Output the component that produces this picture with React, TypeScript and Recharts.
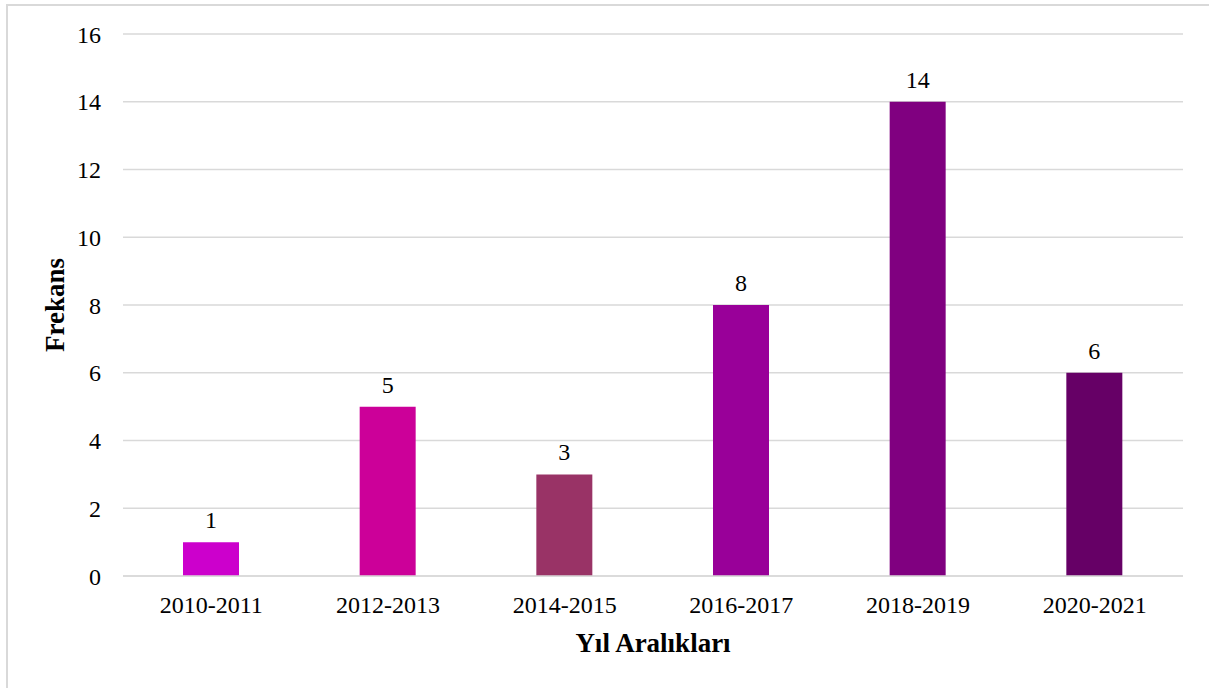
import { BarChart, Bar, XAxis, YAxis, CartesianGrid, Cell, LabelList, Label } from "recharts";

const categories = ["2010-2011", "2012-2013", "2014-2015", "2016-2017", "2018-2019", "2020-2021"];
const frequencies = [1, 5, 3, 8, 14, 6];
const barColors = ["#CC00CC", "#CC0099", "#993366", "#990099", "#800080", "#660066"];
const yTicks = [0, 2, 4, 6, 8, 10, 12, 14, 16];

const data = categories.map((range, i) => ({ range, value: frequencies[i] }));

const FONT = "'Liberation Serif', 'Times New Roman', serif";

export default function App() {
  return (
    <div style={{ position: "fixed", left: 0, top: 0, width: 1209, height: 688, background: "#fff", fontFamily: FONT }}>
      <BarChart
        width={1209}
        height={688}
        data={data}
        margin={{ top: 34, right: 26, left: 63, bottom: 20 }}
      >
        <CartesianGrid vertical={false} stroke="#d9d9d9" strokeWidth={1.5} />
        <XAxis
          dataKey="range"
          height={92}
          axisLine={{ stroke: "#d9d9d9", strokeWidth: 1.5 }}
          tickLine={false}
          tickMargin={14}
          tick={{ fontSize: 24, fill: "#000", fontFamily: FONT }}
        >
          <Label
            value="Yıl Aralıkları"
            position="insideBottom"
            offset={16}
            style={{ fontSize: 27, fontWeight: "bold", fill: "#000", fontFamily: FONT }}
          />
        </XAxis>
        <YAxis
          width={60}
          domain={[0, 16]}
          ticks={yTicks}
          axisLine={false}
          tickLine={false}
          tickMargin={16}
          tick={{ fontSize: 24, fill: "#000", fontFamily: FONT }}
        >
          <Label
            value="Frekans"
            angle={-90}
            position="insideLeft"
            offset={-9}
            style={{ fontSize: 27, fontWeight: "bold", fill: "#000", fontFamily: FONT, textAnchor: "middle" }}
          />
        </YAxis>
        <Bar dataKey="value" barSize={56} isAnimationActive={false}>
          {data.map((d, i) => (
            <Cell key={d.range} fill={barColors[i]} />
          ))}
          <LabelList
            dataKey="value"
            position="top"
            offset={14}
            style={{ fontSize: 24, fill: "#000", fontFamily: FONT }}
          />
        </Bar>
      </BarChart>
      {/* light outer frame */}
      <div
        style={{
          position: "fixed",
          left: 6,
          top: 4,
          width: 1240,
          height: 720,
          borderTop: "2px solid #d9d9d9",
          borderLeft: "2px solid #d9d9d9",
          pointerEvents: "none",
        }}
      />
    </div>
  );
}
